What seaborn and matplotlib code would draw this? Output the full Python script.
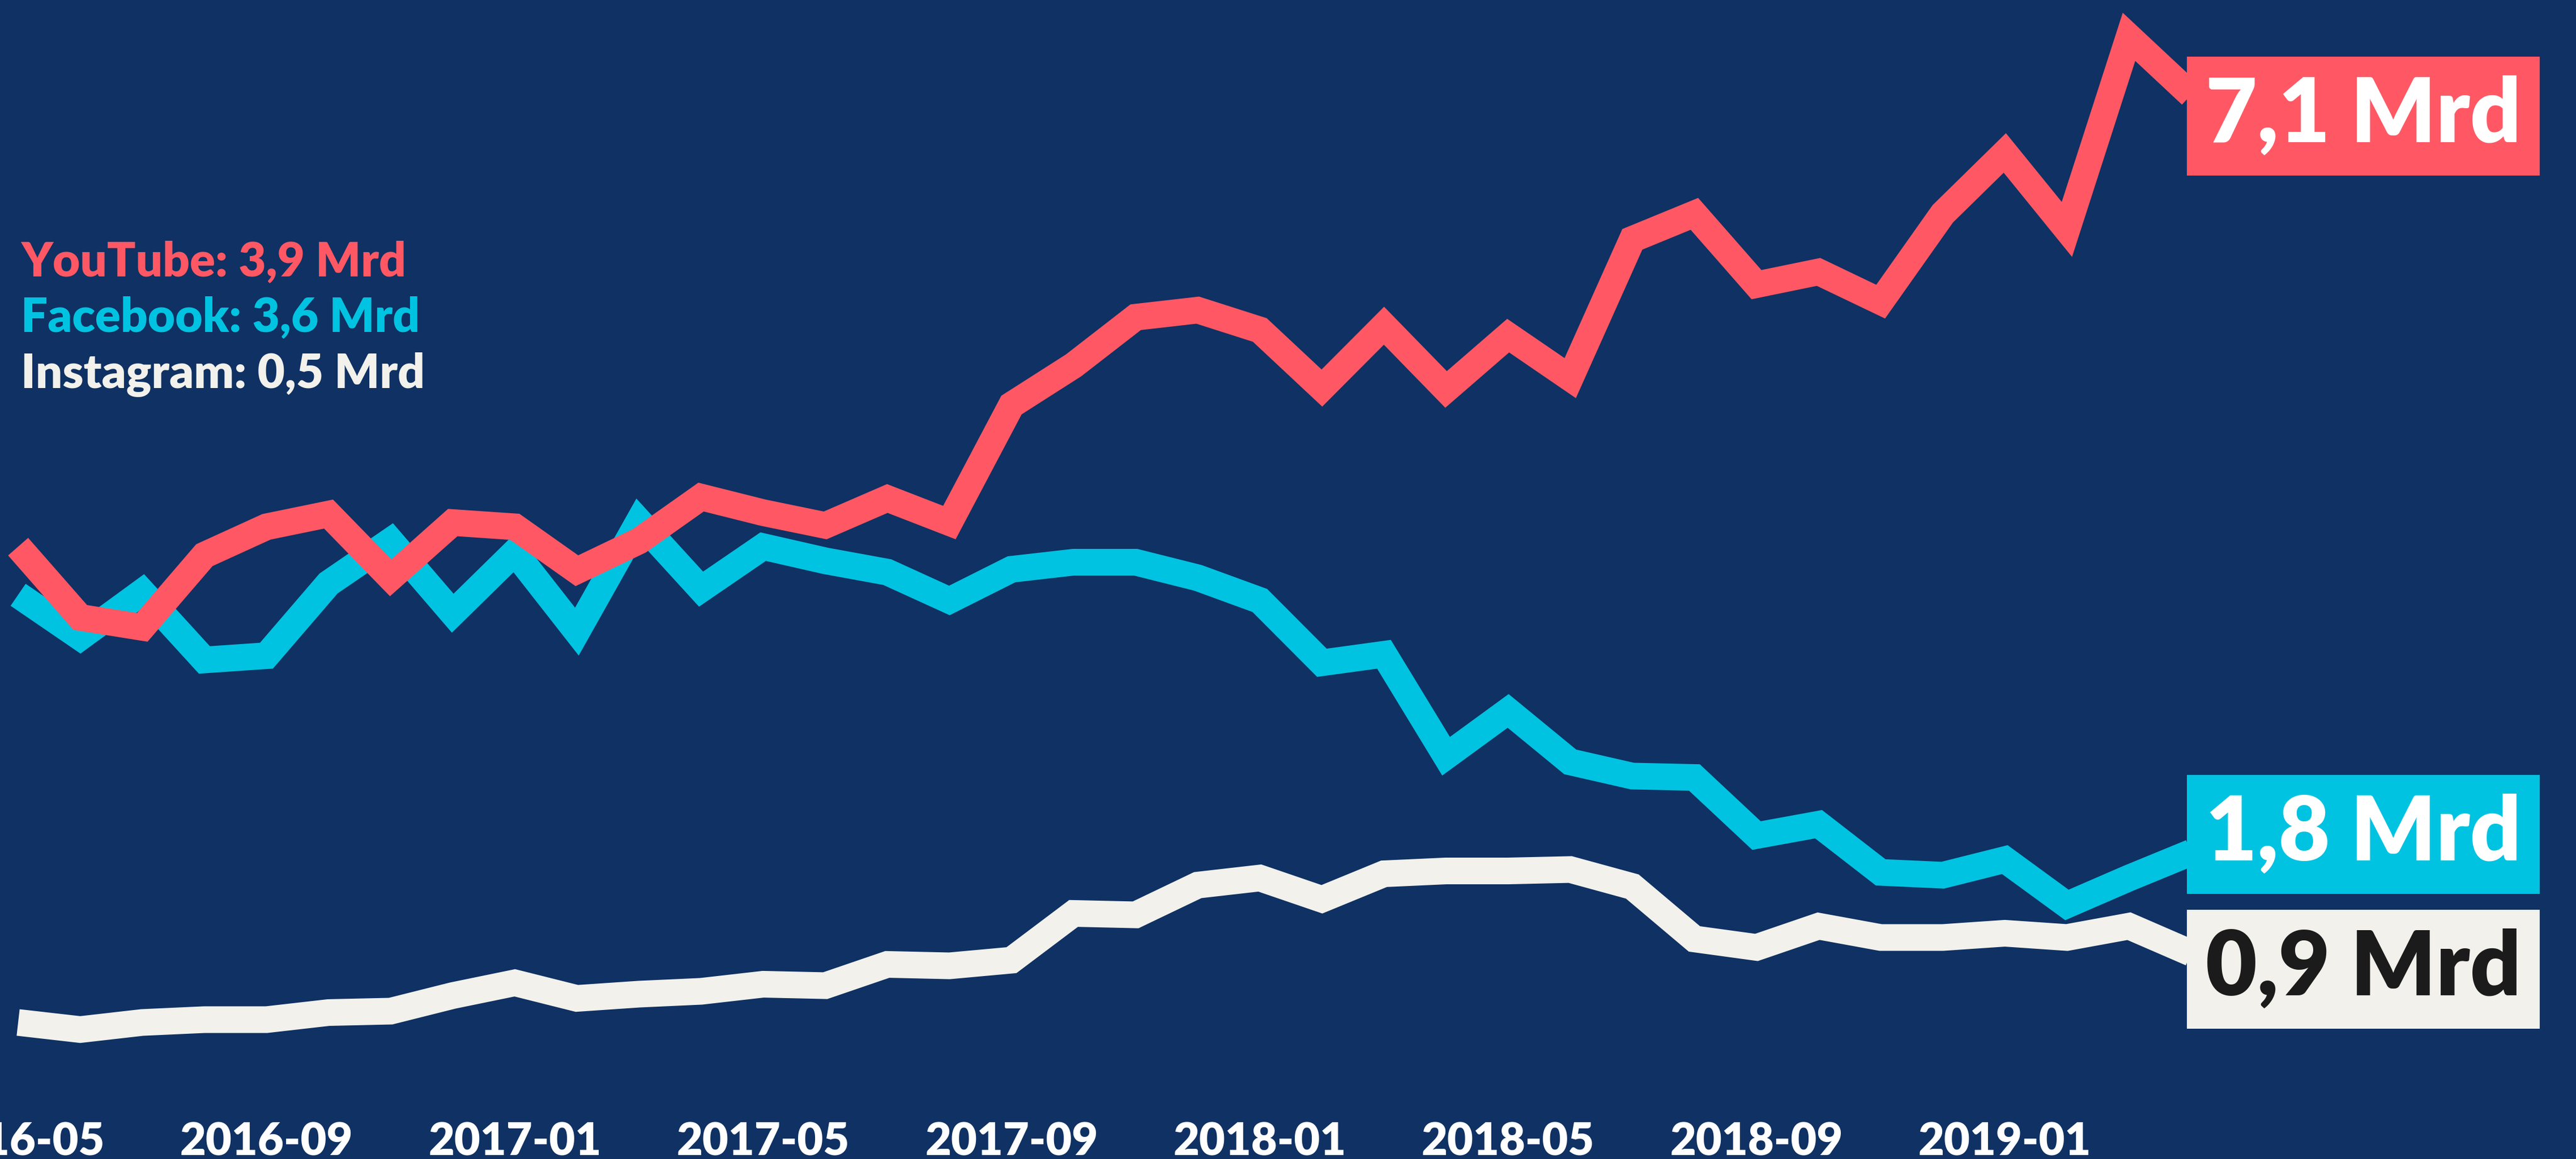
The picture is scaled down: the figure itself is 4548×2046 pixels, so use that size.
import matplotlib
matplotlib.use("Agg")
import matplotlib.pyplot as plt
import pandas as pd
import seaborn as sns

# monthly video views in Mrd, 2016-05 .. 2019-04
months = [str(p) for p in pd.period_range("2016-05", "2019-04", freq="M")]
tick_labels = ["2016-05", "2016-09", "2017-01", "2017-05", "2017-09",
               "2018-01", "2018-05", "2018-09", "2019-01"]

youtube = [3.88, 3.38, 3.31, 3.82, 4.02, 4.11, 3.66, 4.05, 4.02, 3.71,
           3.92, 4.23, 4.12, 4.03, 4.22, 4.05, 4.88, 5.16, 5.50, 5.55,
           5.41, 5.00, 5.44, 4.99, 5.37, 5.07, 6.05, 6.23, 5.73, 5.82,
           5.61, 6.23, 6.66, 6.12, 7.48, 7.07]
facebook = [3.54, 3.24, 3.56, 3.08, 3.11, 3.62, 3.92, 3.41, 3.84, 3.28,
            4.06, 3.58, 3.88, 3.78, 3.70, 3.50, 3.72, 3.77, 3.77, 3.66,
            3.50, 3.06, 3.12, 2.40, 2.72, 2.36, 2.26, 2.25, 1.84, 1.92,
            1.58, 1.56, 1.67, 1.35, 1.54, 1.72]
instagram = [0.52, 0.47, 0.52, 0.54, 0.54, 0.59, 0.60, 0.71, 0.80, 0.69,
             0.72, 0.74, 0.79, 0.78, 0.93, 0.92, 0.96, 1.29, 1.28, 1.49,
             1.54, 1.39, 1.57, 1.59, 1.59, 1.60, 1.48, 1.11, 1.05, 1.20,
             1.12, 1.12, 1.15, 1.12, 1.20, 1.01]

platforms = ["Instagram", "Facebook", "YouTube"]
legend_labels = ["YouTube: 3,9 Mrd", "Facebook: 3,6 Mrd", "Instagram: 0,5 Mrd"]
end_labels = ["0,9 Mrd", "1,8 Mrd", "7,1 Mrd"]

BG = "#0F3163"
RED = "#FF5864"
CYAN = "#00C3E1"
WHITE = "#F2F1EC"
colors = [WHITE, CYAN, RED]

df = pd.DataFrame({
    "idx": list(range(len(months))) * 3,
    "month": months * 3,
    "views": instagram + facebook + youtube,
    "platform": [p for p in platforms for _ in months],
})

sns.set_theme(style="white", rc={"axes.facecolor": BG, "figure.facecolor": BG})
plt.rcParams["font.family"] = ["Lato", "DejaVu Sans"]

fig = plt.figure(figsize=(15.16, 6.82), dpi=300)
ax = fig.add_axes([0, 146 / 2046, 1, 1900 / 2046])

sns.lineplot(data=df, x="idx", y="views", hue="platform", hue_order=platforms,
             palette=colors, linewidth=11.3, legend=False, errorbar=None, ax=ax,
             solid_joinstyle="miter", solid_capstyle="butt")

ax.set_xlim(-0.292, 41.2)
ax.set_ylim(0.14, 7.74)
ax.set_xticks(range(0, len(months), 4))
ax.set_xticklabels(tick_labels)
ax.tick_params(axis="x", length=0, pad=19, labelsize=19, labelcolor="white")
for lab in ax.get_xticklabels():
    lab.set_fontweight("heavy")
ax.set_yticks([])
ax.set_xlabel("")
ax.set_ylabel("")
for s in ax.spines.values():
    s.set_visible(False)

# top-left summary of the starting values
legend_colors = [RED, CYAN, WHITE]
legend_y = [0.7615, 0.7136, 0.6652]
for txt, c, y in zip(legend_labels, legend_colors, legend_y):
    fig.text(0.0081, y, txt, color=c, fontsize=20, fontweight="heavy",
             ha="left", va="baseline")

# value boxes at the end of each line
series = [instagram, facebook, youtube]
text_colors = ["#1B1B1B", "white", "white"]
offsets = [-6.8, 7.7, -9.0]
for vals, c, tc, lab, dy in zip(series, colors, text_colors, end_labels, offsets):
    ax.annotate(lab, xy=(len(vals) - 1, vals[-1]), xytext=(6.2, dy),
                textcoords="offset points", ha="left", va="center",
                fontsize=37.7, fontweight="heavy", color=tc,
                bbox=dict(boxstyle="square,pad=0.21", fc=c, ec="none"),
                annotation_clip=False)

fig.savefig("out.png", dpi=300, facecolor=BG)
